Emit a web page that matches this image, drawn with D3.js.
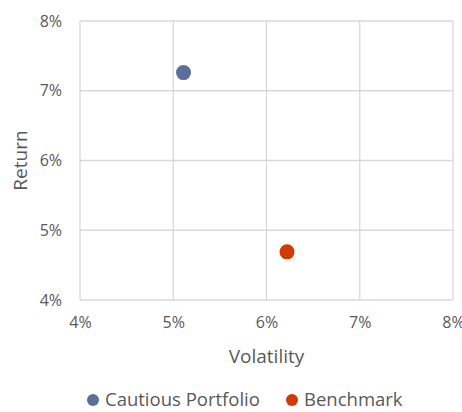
<!DOCTYPE html>
<html>
<head>
<meta charset="utf-8">
<script src="https://cdn.jsdelivr.net/npm/d3@7"></script>
<style>
  body { margin: 0; background: #fff; }
  svg text { font-family: "Open Sans", sans-serif; fill: #595959; }
</style>
</head>
<body>
<div id="container"></div>
<script>
/* DATA */
const seriesNames = ["Cautious Portfolio", "Benchmark"];
const volatility = [5.11, 6.22];
const returns = [7.26, 4.69];
const seriesColors = ["#5B6F99", "#D23A04"];
const xTicks = [4, 5, 6, 7, 8];
const yTicks = [4, 5, 6, 7, 8];

/* CONSTANTS */
const width = 462;
const height = 412;
const plot = { left: 80, right: 453, top: 21, bottom: 300 };

const svg = d3.select("#container")
  .append("svg")
  .attr("width", width)
  .attr("height", height);

/* SCALES */
const xScale = d3.scaleLinear()
  .domain([4, 8])
  .range([plot.left, plot.right]);

const yScale = d3.scaleLinear()
  .domain([4, 8])
  .range([plot.bottom, plot.top]);

// gridlines
svg.append("g")
  .selectAll("line")
  .data(xTicks)
  .join("line")
  .attr("x1", d => xScale(d)).attr("x2", d => xScale(d))
  .attr("y1", plot.top).attr("y2", plot.bottom)
  .attr("stroke", "#d9d9d9")
  .attr("stroke-width", 1.3);

svg.append("g")
  .selectAll("line")
  .data(yTicks)
  .join("line")
  .attr("x1", plot.left).attr("x2", plot.right)
  .attr("y1", d => yScale(d)).attr("y2", d => yScale(d))
  .attr("stroke", "#d9d9d9")
  .attr("stroke-width", 1.3);

// axes (labels only)
const xAxis = svg.append("g")
  .attr("transform", `translate(0,${plot.bottom})`)
  .call(d3.axisBottom(xScale).tickValues(xTicks).tickFormat(d => d + "%").tickSize(0).tickPadding(17));
xAxis.select(".domain").remove();
xAxis.selectAll("text").style("font-size", "16px").style("font-family", "'Open Sans', sans-serif");

const yAxis = svg.append("g")
  .attr("transform", `translate(${plot.left},0)`)
  .call(d3.axisLeft(yScale).tickValues(yTicks).tickFormat(d => d + "%").tickSize(0).tickPadding(18));
yAxis.select(".domain").remove();
yAxis.selectAll("text").style("font-size", "16px").style("font-family", "'Open Sans', sans-serif");

// points
svg.append("g")
  .selectAll("circle")
  .data(seriesNames)
  .join("circle")
  .attr("cx", (d, i) => xScale(volatility[i]))
  .attr("cy", (d, i) => yScale(returns[i]))
  .attr("r", 7.5)
  .attr("fill", (d, i) => seriesColors[i]);

// axis titles
svg.append("text")
  .attr("x", (plot.left + plot.right) / 2)
  .attr("y", 363)
  .attr("text-anchor", "middle")
  .style("font-size", "19px")
  .text("Volatility");

svg.append("text")
  .attr("transform", `translate(27,${(plot.top + plot.bottom) / 2}) rotate(-90)`)
  .attr("text-anchor", "middle")
  .style("font-size", "19px")
  .text("Return");

// legend
const legendX = [93, 292];
const legend = svg.append("g")
  .selectAll("g")
  .data(seriesNames)
  .join("g")
  .attr("transform", (d, i) => `translate(${legendX[i]},400)`);

legend.append("circle")
  .attr("r", 6)
  .attr("fill", (d, i) => seriesColors[i]);

legend.append("text")
  .attr("x", 12)
  .attr("y", 6)
  .style("font-size", "18.5px")
  .text(d => d);
</script>
</body>
</html>
